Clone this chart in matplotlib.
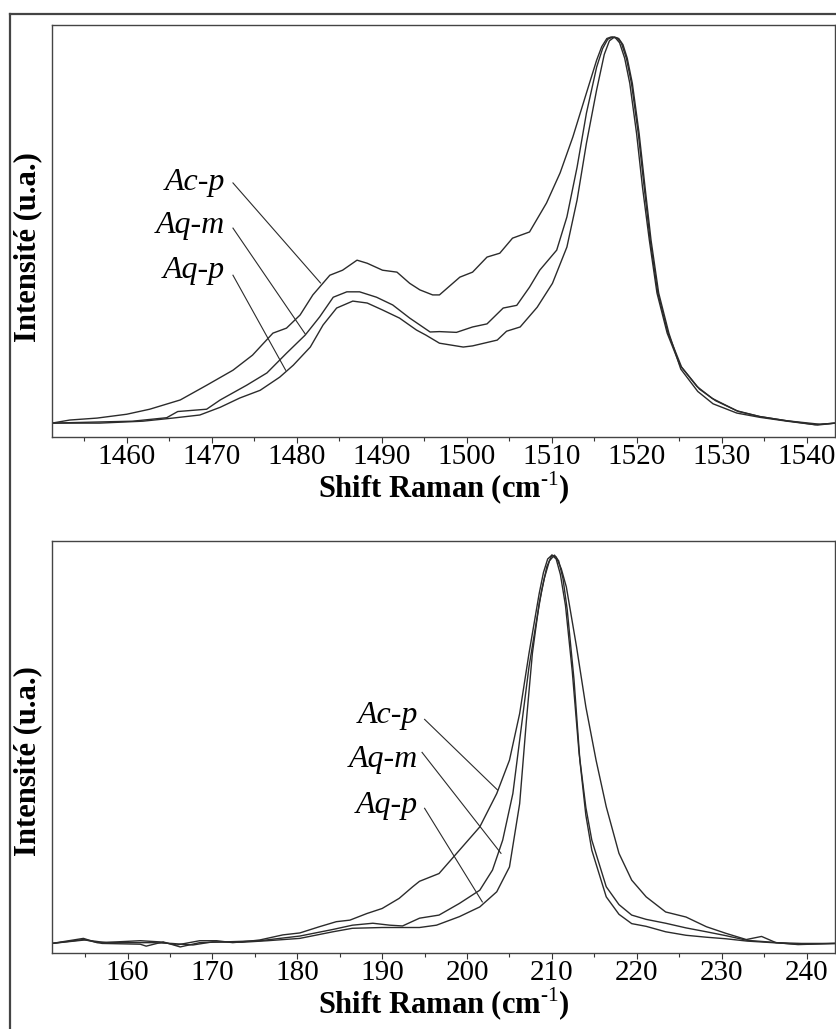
import matplotlib
matplotlib.use("Agg")
import matplotlib.pyplot as plt
from matplotlib.lines import Line2D
from matplotlib.ticker import MultipleLocator, NullLocator

plt.rcParams['font.family'] = 'Liberation Serif'
plt.rcParams['mathtext.fontset'] = 'custom'
plt.rcParams['mathtext.rm'] = 'Liberation Serif'
plt.rcParams['mathtext.bf'] = 'Liberation Serif:bold'

# ---- top panel: band near 1517 cm-1 ----
top_acp_x = [1451.2, 1453.3, 1456.5, 1460.0, 1462.7, 1466.3, 1469.4, 1472.5, 1474.8, 1477.2,
             1478.8, 1480.4, 1481.9, 1483.9, 1485.4, 1487.1, 1488.3, 1490.1, 1491.8, 1493.3,
             1494.5, 1496.0, 1496.8, 1499.2, 1500.7, 1502.4, 1503.9, 1505.4, 1507.4, 1509.4,
             1511.0, 1512.5, 1514.1, 1515.3, 1515.9, 1516.5, 1517.0, 1517.5, 1518.0, 1518.6,
             1519.2, 1520.0, 1520.7, 1521.5, 1522.4, 1523.6, 1525.1, 1527.1, 1528.9, 1531.8,
             1534.5, 1537.7, 1541.6, 1543.4]
top_acp_y = [0.0, 0.008, 0.013, 0.023, 0.036, 0.06, 0.098, 0.137, 0.176, 0.233,
             0.246, 0.28, 0.332, 0.383, 0.396, 0.422, 0.414, 0.396, 0.391, 0.362,
             0.345, 0.332, 0.332, 0.378, 0.391, 0.43, 0.44, 0.479, 0.495, 0.57,
             0.648, 0.741, 0.855, 0.94, 0.975, 0.996, 1.0, 0.998, 0.985, 0.945,
             0.88, 0.75, 0.61, 0.474, 0.337, 0.233, 0.15, 0.095, 0.064, 0.032,
             0.017, 0.006, -0.003, 0.0]

top_aqm_x = [1451.2, 1456.8, 1460.7, 1464.7, 1466.0, 1469.4, 1471.0, 1474.1, 1476.5, 1478.8,
             1481.0, 1482.7, 1484.3, 1485.9, 1487.4, 1489.4, 1491.3, 1493.3, 1494.5, 1495.7,
             1496.8, 1498.8, 1500.7, 1502.4, 1504.3, 1505.9, 1507.4, 1508.6, 1510.6, 1511.8,
             1513.0, 1514.1, 1515.3, 1516.0, 1516.6, 1517.2, 1517.7, 1518.2, 1518.8, 1519.4,
             1520.2, 1520.9, 1521.6, 1522.5, 1523.7, 1525.3, 1527.4, 1529.3, 1532.0, 1534.5,
             1537.7, 1541.0, 1543.4]
top_aqm_y = [0.0, 0.003, 0.005, 0.014, 0.03, 0.036, 0.06, 0.098, 0.13, 0.181,
             0.228, 0.275, 0.326, 0.34, 0.34, 0.326, 0.306, 0.272, 0.254, 0.236,
             0.237, 0.235, 0.249, 0.257, 0.298, 0.305, 0.352, 0.396, 0.448, 0.534,
             0.663, 0.803, 0.922, 0.97, 0.994, 1.0, 0.997, 0.985, 0.945, 0.88,
             0.75, 0.61, 0.474, 0.337, 0.233, 0.145, 0.088, 0.058, 0.03, 0.017,
             0.006, -0.004, 0.0]

top_aqp_x = [1451.2, 1456.8, 1461.9, 1465.4, 1468.6, 1471.0, 1473.3, 1475.7, 1478.0, 1479.6,
             1481.6, 1483.1, 1484.7, 1486.6, 1488.3, 1490.1, 1492.1, 1494.1, 1495.2, 1496.8,
             1499.6, 1500.7, 1503.6, 1504.7, 1506.3, 1508.3, 1510.1, 1511.8, 1513.0, 1514.1,
             1515.3, 1516.2, 1516.8, 1517.4, 1517.9, 1518.4, 1518.9, 1519.5, 1520.3, 1521.0,
             1521.7, 1522.6, 1523.8, 1525.2, 1527.2, 1529.0, 1531.8, 1534.5, 1537.7, 1541.3,
             1543.4]
top_aqp_y = [0.0, 0.0, 0.005, 0.013, 0.021, 0.041, 0.065, 0.085, 0.119, 0.15,
             0.197, 0.254, 0.298, 0.316, 0.311, 0.293, 0.272, 0.241, 0.228, 0.207,
             0.197, 0.2, 0.215, 0.238, 0.249, 0.3, 0.362, 0.456, 0.578, 0.725,
             0.863, 0.955, 0.99, 1.0, 0.996, 0.98, 0.945, 0.88, 0.75, 0.61,
             0.474, 0.337, 0.233, 0.14, 0.082, 0.05, 0.026, 0.015, 0.005, -0.005,
             0.0]

# ---- bottom panel: band near 210 cm-1 ----
bot_acp_x = [151.1, 154.8, 156.4, 158.7, 161.5, 163.8, 165.8, 168.5, 170.5, 172.4,
             174.8, 175.6, 178.3, 180.3, 182.6, 184.6, 186.2, 188.2, 190.0, 192.0,
             193.6, 194.4, 196.7, 199.1, 201.5, 203.5, 205.0, 206.2, 207.3, 208.5,
             209.0, 209.5, 210.0, 210.5, 211.1, 211.7, 212.9, 214.0, 215.2, 216.4,
             217.9, 219.4, 221.1, 223.4, 225.8, 228.2, 230.5, 232.9, 234.7, 236.4,
             239.4, 243.4]
bot_acp_y = [0.0, 0.013, 0.002, 0.004, 0.007, 0.004, -0.004, 0.007, 0.007, 0.002,
             0.007, 0.009, 0.022, 0.027, 0.043, 0.056, 0.06, 0.077, 0.09, 0.116,
             0.146, 0.16, 0.18, 0.24, 0.30, 0.386, 0.472, 0.592, 0.747, 0.901,
             0.955, 0.99, 1.0, 0.995, 0.965, 0.918, 0.764, 0.609, 0.472, 0.352,
             0.232, 0.163, 0.12, 0.081, 0.068, 0.043, 0.026, 0.01, 0.018, 0.002,
             0.0, 0.0]

bot_aqm_x = [151.1, 154.8, 157.0, 161.5, 162.2, 164.2, 166.2, 168.5, 171.5, 175.6,
             180.3, 184.2, 186.5, 188.9, 190.9, 192.4, 194.4, 196.7, 199.1, 201.5,
             203.0, 204.2, 205.4, 206.5, 207.3, 208.2, 208.8, 209.4, 210.0, 210.5,
             211.0, 211.6, 212.4, 213.2, 214.0, 214.7, 216.4, 217.9, 219.4, 221.1,
             223.4, 225.8, 228.2, 230.5, 233.0, 236.0, 239.0, 243.4]
bot_aqm_y = [0.0, 0.01, 0.0, -0.002, -0.007, 0.004, -0.009, 0.002, 0.004, 0.007,
             0.019, 0.036, 0.047, 0.052, 0.047, 0.045, 0.065, 0.073, 0.103, 0.137,
             0.189, 0.266, 0.386, 0.575, 0.712, 0.833, 0.91, 0.97, 1.0, 0.99,
             0.95, 0.87, 0.70, 0.49, 0.35, 0.266, 0.146, 0.1, 0.073, 0.062,
             0.052, 0.04, 0.03, 0.02, 0.008, 0.003, -0.003, 0.0]

bot_aqp_x = [151.1, 155.0, 157.5, 160.5, 163.0, 165.2, 167.7, 170.0, 173.5, 176.5,
             180.3, 184.2, 186.5, 190.0, 194.4, 196.4, 199.1, 201.5, 203.5, 205.0,
             206.2, 207.0, 207.7, 208.5, 209.1, 209.7, 210.3, 210.8, 211.3, 211.8,
             212.6, 213.3, 214.0, 214.7, 216.4, 217.9, 219.4, 221.1, 223.4, 225.8,
             228.2, 230.5, 233.0, 236.0, 239.0, 243.4]
bot_aqp_y = [0.0, 0.009, 0.002, 0.002, 0.002, 0.0, -0.004, 0.004, 0.003, 0.007,
             0.013, 0.03, 0.039, 0.041, 0.041, 0.047, 0.069, 0.094, 0.133, 0.197,
             0.36, 0.575, 0.747, 0.876, 0.94, 0.985, 1.0, 0.985, 0.94, 0.86,
             0.68, 0.47, 0.33, 0.24, 0.12, 0.075, 0.051, 0.044, 0.03, 0.021,
             0.016, 0.012, 0.006, 0.002, -0.002, 0.0]

names = ['Ac-p', 'Aq-m', 'Aq-p']

# label text (x right edge, baseline y) and leader line ends for each panel
top_text = [(1471.6, 0.604), (1471.6, 0.492), (1471.6, 0.376)]
top_lines = [((1472.5, 0.622), (1482.8, 0.363)),
             ((1472.5, 0.505), (1481.0, 0.231)),
             ((1472.5, 0.383), (1478.7, 0.137))]
bot_text = [(194.2, 0.567), (194.2, 0.455), (194.2, 0.335)]
bot_lines = [((195.0, 0.577), (203.6, 0.395)),
             ((194.7, 0.492), (204.0, 0.232)),
             ((195.0, 0.348), (201.8, 0.107))]

line_col = '#2b2b2b'

fig = plt.figure(figsize=(8.37, 10.29), dpi=100)
ax1 = fig.add_axes([0.0621, 0.5753, 0.936, 0.4004])
ax2 = fig.add_axes([0.0621, 0.0741, 0.936, 0.4004])


def setup(ax, xlim, ylim, text_pos, lines, ylab_y):
    ax.set_xlim(*xlim)
    ax.set_ylim(*ylim)
    ax.xaxis.set_major_locator(MultipleLocator(10))
    ax.xaxis.set_minor_locator(MultipleLocator(5))
    ax.yaxis.set_major_locator(NullLocator())
    ax.tick_params(axis='x', which='major', direction='out', length=4, width=0.8,
                   labelsize=21, pad=1, color='#333333')
    ax.tick_params(axis='x', which='minor', direction='out', length=3, width=0.8,
                   color='#333333')
    for s in ax.spines.values():
        s.set_color('#444444')
        s.set_linewidth(1.0)
    ax.set_xlabel(r'Shift Raman (cm$^{\text{-}\mathrm{1}}$)', fontsize=22,
                  fontweight='bold', labelpad=0)
    ax.set_ylabel('Intensité (u.a.)', fontsize=22, fontweight='bold')
    ax.yaxis.set_label_coords(-0.012, ylab_y)
    for name, (tx, ty), (p0, p1) in zip(names, text_pos, lines):
        ax.text(tx, ty, name, fontsize=23, style='italic', ha='right', va='baseline')
        ax.plot([p0[0], p1[0]], [p0[1], p1[1]], color=line_col, lw=0.8)


ax1.plot(top_acp_x, top_acp_y, color=line_col, lw=1.0)
ax1.plot(top_aqm_x, top_aqm_y, color=line_col, lw=1.0)
ax1.plot(top_aqp_x, top_aqp_y, color=line_col, lw=1.0)
setup(ax1, (1451.2, 1543.4), (-0.036, 1.031), top_text, top_lines, 0.461)

ax2.plot(bot_acp_x, bot_acp_y, color=line_col, lw=1.0)
ax2.plot(bot_aqm_x, bot_aqm_y, color=line_col, lw=1.0)
ax2.plot(bot_aqp_x, bot_aqp_y, color=line_col, lw=1.0)
setup(ax2, (151.1, 243.4), (-0.024, 1.037), bot_text, bot_lines, 0.466)

# outer frame (left and top edges visible)
fig.add_artist(Line2D([0.012, 0.012], [0.0, 0.9864], transform=fig.transFigure,
                      color='#444444', lw=1.6))
fig.add_artist(Line2D([0.012, 1.0], [0.9864, 0.9864], transform=fig.transFigure,
                      color='#444444', lw=1.6))

fig.savefig('out.png', dpi=100)
